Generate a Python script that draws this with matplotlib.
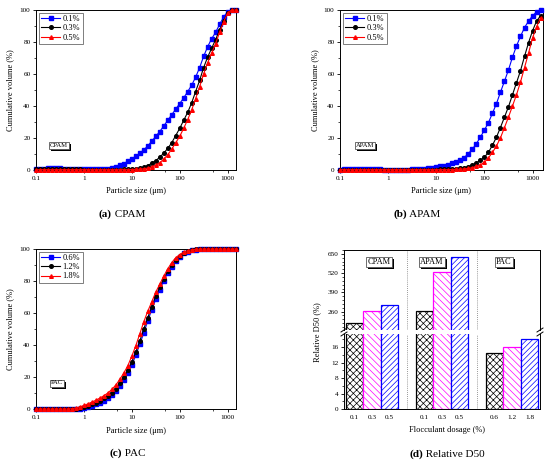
import numpy as np
import matplotlib
matplotlib.use("Agg")
import matplotlib.pyplot as plt
import matplotlib.patheffects as pe
from matplotlib.ticker import FixedLocator, AutoMinorLocator, NullFormatter, FuncFormatter
from matplotlib.offsetbox import TextArea, HPacker, AnnotationBbox
from matplotlib.lines import Line2D

plt.rcParams['font.family'] = ['Liberation Serif', 'DejaVu Serif']
plt.rcParams['hatch.linewidth'] = 0.5

# ---------------- data ----------------
size_um = [0.1, 0.121, 0.147, 0.178, 0.215, 0.261, 0.316, 0.383, 0.464, 0.562, 0.681, 0.825,
           1.0, 1.21, 1.47, 1.78, 2.15, 2.61, 3.16, 3.83, 4.64, 5.62, 6.81, 8.25,
           10, 12.1, 14.7, 17.8, 21.5, 26.1, 31.6, 38.3, 46.4, 56.2, 68.1, 82.5,
           100, 121, 147, 178, 215, 261, 316, 383, 464, 562, 681, 825,
           1000, 1210, 1470]

cpam_labels = ['0.1%', '0.3%', '0.5%']
cpam_01 = [0.5, 0.7, 0.9, 1.0, 1.1, 1.1, 1.0, 0.9, 0.7, 0.6, 0.5, 0.4,
           0.4, 0.4, 0.4, 0.4, 0.5, 0.6, 0.9, 1.4, 2.1, 3.0, 4.0, 5.4,
           7.0, 8.5, 10.5, 12.5, 15.0, 18.0, 21.0, 24.0, 27.5, 31.0, 34.5, 38.0,
           41.5, 45.0, 49.0, 53.0, 58.0, 64.0, 71.0, 77.0, 82.0, 86.0, 91.0, 95.5,
           99.0, 100, 100]
cpam_03 = [0.4, 0.4, 0.4, 0.4, 0.4, 0.4, 0.4, 0.4, 0.4, 0.4, 0.4, 0.4,
           0.3, 0.3, 0.3, 0.3, 0.3, 0.3, 0.3, 0.3, 0.3, 0.3, 0.4, 0.4,
           0.5, 0.7, 1.0, 1.7, 2.8, 4.2, 5.8, 8.0, 10.5, 13.5, 17.0, 21.5,
           26.0, 31.0, 36.0, 42.0, 49.0, 56.0, 64.0, 70.5, 76.0, 81.5, 87.5, 93.0,
           98.0, 100, 100]
cpam_05 = [0.2, 0.2, 0.2, 0.2, 0.2, 0.2, 0.2, 0.2, 0.2, 0.2, 0.2, 0.2,
           0.2, 0.2, 0.2, 0.2, 0.2, 0.2, 0.2, 0.2, 0.2, 0.2, 0.2, 0.2,
           0.3, 0.4, 0.5, 0.8, 1.2, 2.0, 3.0, 4.5, 6.8, 9.5, 13.0, 17.0,
           21.0, 26.0, 31.5, 37.5, 44.5, 52.0, 60.0, 67.0, 73.0, 79.0, 86.0, 92.5,
           98.0, 100, 100]

apam_labels = ['0.1%', '0.3%', '0.5%']
apam_01 = [0.3, 0.4, 0.5, 0.6, 0.6, 0.6, 0.6, 0.5, 0.5, 0.4, 0.4, 0.3,
           0.3, 0.3, 0.3, 0.3, 0.3, 0.3, 0.4, 0.5, 0.6, 0.8, 1.0, 1.3,
           1.7, 2.2, 2.8, 3.4, 4.1, 5.0, 6.0, 7.8, 10.3, 13.0, 16.5, 20.5,
           25.0, 29.5, 35.5, 41.5, 48.5, 55.5, 62.5, 70.5, 77.5, 83.5, 89.0, 93.0,
           96.4, 98.8, 100]
apam_03 = [0.3, 0.3, 0.3, 0.3, 0.3, 0.3, 0.3, 0.3, 0.3, 0.3, 0.3, 0.3,
           0.3, 0.3, 0.3, 0.3, 0.3, 0.3, 0.3, 0.3, 0.3, 0.3, 0.3, 0.3,
           0.3, 0.4, 0.5, 0.6, 0.7, 0.9, 1.1, 1.5, 2.1, 3.0, 4.5, 6.0,
           8.0, 11.0, 15.5, 20.5, 26.5, 33.0, 39.5, 47.0, 54.5, 62.0, 71.0, 79.5,
           87.0, 93.0, 96.5]
apam_05 = [0.2, 0.2, 0.2, 0.2, 0.2, 0.2, 0.2, 0.2, 0.2, 0.2, 0.2, 0.2,
           0.2, 0.2, 0.2, 0.2, 0.2, 0.2, 0.2, 0.2, 0.2, 0.2, 0.2, 0.2,
           0.2, 0.2, 0.2, 0.2, 0.3, 0.4, 0.5, 0.7, 1.0, 1.5, 2.3, 3.3,
           4.8, 7.5, 11.0, 15.0, 20.0, 26.5, 33.0, 40.0, 47.0, 55.0, 64.0, 73.0,
           82.5, 89.5, 95.0]

pac_labels = ['0.6%', '1.2%', '1.8%']
pac_06 = [0, 0, 0, 0, 0, 0, 0, 0, 0, 0, 0, 0.2,
          0.6, 1.2, 2.0, 2.9, 4.0, 5.3, 6.8, 8.7, 11.2, 14.3, 18.0, 22.5,
          27.5, 33.5, 40.5, 47.5, 55.0, 62.0, 68.5, 74.5, 80.0, 85.0, 89.0, 92.5,
          95.2, 97.2, 98.4, 99.1, 99.5, 99.8, 99.9, 100, 100, 100, 100, 100,
          100, 100, 100]
pac_12 = [0, 0, 0, 0, 0, 0, 0, 0, 0, 0, 0.2, 0.6,
          1.2, 2.0, 3.0, 4.0, 5.2, 6.6, 8.2, 10.2, 12.8, 16.0, 19.8, 24.3,
          29.5, 35.5, 42.5, 50.0, 57.0, 64.0, 70.5, 76.0, 81.5, 86.0, 90.0, 93.3,
          95.8, 97.6, 98.7, 99.3, 99.7, 99.9, 100, 100, 100, 100, 100, 100,
          100, 100, 100]
pac_18 = [0, 0, 0, 0, 0, 0, 0, 0, 0, 0.2, 0.6, 1.3,
          2.2, 3.2, 4.3, 5.5, 6.8, 8.3, 10.0, 12.2, 15.0, 18.5, 22.5, 27.0,
          33.0, 39.5, 47.0, 54.5, 61.0, 67.0, 73.0, 78.0, 83.0, 87.5, 91.5, 94.5,
          96.5, 98.0, 99.0, 99.5, 99.8, 100, 100, 100, 100, 100, 100, 100,
          100, 100, 100]

# Relative D50 bars
groups = ['CPAM', 'APAM', 'PAC']
dosage_labels = ['0.1', '0.3', '0.5', '0.1', '0.3', '0.5', '0.6', '1.2', '1.8']
d50_cpam = [182, 267, 301]
d50_apam = [265, 525, 630]
d50_pac = [14.4, 16.1, 18.2]

# ---------------- figure ----------------
W, H = 550, 466
fig = plt.figure(figsize=(W / 100, H / 100), dpi=100)


def px_axes(left, right, top, bottom):
    return fig.add_axes([left / W, (H - bottom) / H, (right - left) / W, (bottom - top) / H])


colors = ['#0000FF', '#000000', '#FF0000']
markers = ['s', 'o', '^']
TICK = 5.2
LAB = 6.0


def fmt_log(v, pos):
    if v >= 1:
        return '%d' % round(v)
    return '%g' % v


def style_curve_axes(ax, xmax):
    ax.set_xscale('log')
    ax.set_xlim(0.1, xmax)
    ax.set_ylim(0, 100)
    ax.xaxis.set_major_locator(FixedLocator([0.1, 1, 10, 100, 1000]))
    ax.xaxis.set_major_formatter(FuncFormatter(fmt_log))
    ax.xaxis.set_minor_locator(FixedLocator([0.5, 5, 50, 500]))
    ax.xaxis.set_minor_formatter(NullFormatter())
    ax.set_yticks([0, 20, 40, 60, 80, 100])
    ax.yaxis.set_minor_locator(AutoMinorLocator(2))
    ax.tick_params(which='major', direction='out', length=2.5, width=0.6, labelsize=TICK, pad=1.5)
    ax.tick_params(which='minor', direction='out', length=1.5, width=0.5)
    for s in ax.spines.values():
        s.set_linewidth(0.7)


def shadow_label(ax, x, y, text, size):
    t = ax.text(x, y, text, transform=ax.transAxes, fontsize=size, ha='center', va='center',
                color='black', zorder=6,
                bbox=dict(boxstyle='square,pad=0.15', fc='white', ec='#555555', lw=0.6))
    t.get_bbox_patch().set_path_effects([
        pe.SimplePatchShadow(offset=(1.5, -1.5), shadow_rgbFace='black', alpha=1.0),
        pe.Normal()])


def curve_panel(ax, series, labels, xmax, tag, tagpos):
    for yv, lab, c, m in zip(series, labels, colors, markers):
        ax.plot(size_um, yv, color=c, marker=m, ms=2.6, lw=0.8, mec=c, mfc=c,
                label=lab, clip_on=False, zorder=3)
    style_curve_axes(ax, xmax)
    leg = ax.legend(loc='upper left', fontsize=6, frameon=True, fancybox=False,
                    edgecolor='#444444', handlelength=2.3, borderpad=0.3, labelspacing=0.15,
                    handletextpad=0.3, borderaxespad=0.3, numpoints=1)
    leg.get_frame().set_linewidth(0.6)
    shadow_label(ax, tagpos[0], tagpos[1], tag, 4.8)


# (a) CPAM
ax_a = px_axes(36, 236, 10, 170)
curve_panel(ax_a, [cpam_01, cpam_03, cpam_05], cpam_labels, 1500, 'CPAM', (0.115, 0.156))
# (b) APAM
ax_b = px_axes(340, 543, 10, 170)
curve_panel(ax_b, [apam_01, apam_03, apam_05], apam_labels, 1650, 'APAM', (0.123, 0.156))
# (c) PAC
ax_c = px_axes(36, 236, 249, 409)
curve_panel(ax_c, [pac_06, pac_12, pac_18], pac_labels, 1500, 'PAC', (0.105, 0.1625))


def ftext(xp, yp, s, **kw):
    fig.text(xp / W, (H - yp) / H, s, **kw)


for (xc, yc) in [(136, 191), (441, 191), (136, 431)]:
    ftext(xc, yc, 'Particle size (\u03bcm)', fontsize=LAB, ha='center', va='center')
for (xc, yc) in [(10, 90), (315, 90), (10, 329)]:
    ftext(xc, yc, 'Cumulative volume (%)', fontsize=LAB, ha='center', va='center', rotation=90)

# (d) Relative D50 with broken axis
ax_up = px_axes(344, 540, 250, 330)
ax_lo = px_axes(344, 540, 334, 409)
bar_x = [-1, 0, 1, 3, 4, 5, 7, 8, 9]
bar_vals = d50_cpam + d50_apam + d50_pac
bar_cols = ['black', '#FF00FF', '#0000FF'] * 3
bar_hatch = ['xxxxx', '\\\\\\\\\\', '//////'] * 3
for ax in (ax_up, ax_lo):
    for xv, v, c, h in zip(bar_x, bar_vals, bar_cols, bar_hatch):
        ax.bar(xv, v, width=1.0, color='white', edgecolor=c, hatch=h, linewidth=0.9, zorder=2)
    ax.set_xlim(-1.6, 9.6)
    for xs in (2, 6):
        ax.axvline(xs, color='#777777', lw=0.6, ls=(0, (1, 1.5)), zorder=1)
    for s in ax.spines.values():
        s.set_linewidth(0.7)

ax_up.set_ylim(135, 677)
ax_up.set_yticks([260, 390, 520, 650])
ax_up.yaxis.set_minor_locator(AutoMinorLocator(5))
ax_up.spines['bottom'].set_visible(False)
ax_up.tick_params(axis='x', which='both', bottom=False, labelbottom=False)
ax_up.tick_params(axis='y', which='major', direction='out', length=2.5, width=0.6, labelsize=TICK, pad=1.5)
ax_up.tick_params(axis='y', which='minor', direction='out', length=1.5, width=0.5)

ax_lo.set_ylim(0, 19.4)
ax_lo.set_yticks([0, 4, 8, 12, 16])
ax_lo.yaxis.set_minor_locator(AutoMinorLocator(2))
ax_lo.spines['top'].set_visible(False)
ax_lo.set_xticks(bar_x)
ax_lo.set_xticklabels(dosage_labels)
ax_lo.tick_params(axis='x', length=0, labelsize=TICK, pad=4)
ax_lo.tick_params(axis='y', which='major', direction='out', length=2.5, width=0.6, labelsize=TICK, pad=1.5)
ax_lo.tick_params(axis='y', which='minor', direction='out', length=1.5, width=0.5)

# group labels
for gx, g in zip([0.179, 0.447, 0.816], groups):
    shadow_label(ax_up, gx, 0.85, g, 6)

# break marks
for xb in (344, 540):
    for yb in (330, 334):
        fig.add_artist(Line2D([(xb - 3) / W, (xb + 3) / W], [(H - yb - 2) / H, (H - yb + 2) / H],
                              color='black', lw=0.7, transform=fig.transFigure))

ftext(317, 332, 'Relative D50 (%)', fontsize=LAB, ha='center', va='center', rotation=90)
ftext(447, 430, 'Flocculant dosage (%)', fontsize=LAB, ha='center', va='center')


# captions
def caption(xp, yp, tag, rest):
    box = HPacker(children=[TextArea(tag, textprops=dict(fontsize=8, fontweight='bold')),
                            TextArea(rest, textprops=dict(fontsize=8))], pad=0, sep=0, align='baseline')
    ab = AnnotationBbox(box, (xp / W, (H - yp) / H), xycoords='figure fraction', frameon=False,
                        box_alignment=(0.5, 0.5), pad=0)
    fig.add_artist(ab)


caption(122, 214, '(a)', ' CPAM')
caption(417, 214, '(b)', ' APAM')
caption(127, 453, '(c)', ' PAC')
caption(447, 454, '(d)', ' Relative D50')

fig.savefig('out.png', dpi=100)
